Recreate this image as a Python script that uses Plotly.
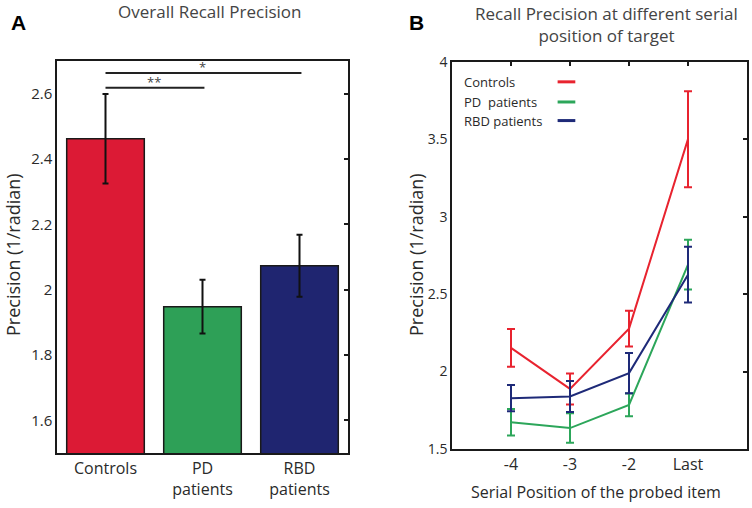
import plotly.graph_objects as go

# ---------------- data ----------------
groups = ["Controls", "PD<br>patients", "RBD<br>patients"]
overall_mean = [2.462, 1.948, 2.073]
overall_err = [0.137, 0.082, 0.095]
bar_colors = ["#DC1A35", "#2EA057", "#1F2570"]

sig_pairs = [(0, 1), (0, 2)]
sig_heights = [2.618, 2.663]
sig_labels = ["**", "*"]

positions = ["-4", "-3", "-2", "Last"]
series_names = ["Controls", "PD  patients", "RBD patients"]
controls_mean = [2.153, 1.888, 2.277, 3.50]
controls_err = [0.122, 0.10, 0.115, 0.31]
pd_mean = [1.673, 1.635, 1.785, 2.69]
pd_err = [0.086, 0.095, 0.073, 0.16]
rbd_mean = [1.828, 1.839, 1.990, 2.625]
rbd_err = [0.085, 0.10, 0.13, 0.18]
line_colors = ["#E8232F", "#2CA65A", "#1E2A78"]

FONT = "Open Sans"
GRAY = "#2a2a2a"
AX = "#1a1a1a"

fig = go.Figure()

# Panel A bars
fig.add_trace(go.Bar(
    x=groups, y=overall_mean, width=0.8,
    marker=dict(color=bar_colors, line=dict(color="#1a1a1a", width=1.5)),
    error_y=dict(type="data", array=overall_err, color="#111111", thickness=2, width=3),
    xaxis="x", yaxis="y", showlegend=False,
))
# dummy traces for overlay tick axes
fig.add_trace(go.Scatter(x=[], y=[], xaxis="x", yaxis="y3", showlegend=False))
fig.add_trace(go.Scatter(x=[], y=[], xaxis="x3", yaxis="y4", showlegend=False))

# Panel B lines
for name, m, e, c in zip(series_names, [controls_mean, pd_mean, rbd_mean],
                         [controls_err, pd_err, rbd_err], line_colors):
    fig.add_trace(go.Scatter(
        x=positions, y=m, mode="lines", name=name,
        line=dict(color=c, width=2),
        error_y=dict(type="data", array=e, color=c, thickness=2, width=4),
        xaxis="x2", yaxis="y2", showlegend=False,
    ))

shapes = []
annotations = []
# significance bars
for (a, b), h, lab in zip(sig_pairs, sig_heights, sig_labels):
    shapes.append(dict(type="line", xref="x", yref="y", x0=a, x1=b + 0.02, y0=h, y1=h,
                       line=dict(color="#222222", width=2)))
    annotations.append(dict(xref="x", yref="y", x=(a + b) / 2, y=h, text=lab,
                            showarrow=False, yanchor="bottom", yshift=-5,
                            font=dict(family=FONT, size=13, color="#444444")))

# legend for panel B (text then short line)
leg_y = [0.948, 0.896, 0.848]
for name, c, yy in zip(series_names, line_colors, leg_y):
    annotations.append(dict(xref="x2 domain", yref="y2 domain", x=0.035, y=yy, text=name,
                            showarrow=False, xanchor="left", yanchor="middle",
                            font=dict(family=FONT, size=13, color=GRAY)))
    shapes.append(dict(type="line", xref="x2 domain", yref="y2 domain", x0=0.358, x1=0.418,
                       y0=yy, y1=yy, line=dict(color=c, width=3)))

# titles, axis titles and panel letters
annotations += [
    dict(xref="paper", yref="paper", x=209 / 752, y=1 - 12 / 508, text="Overall Recall Precision",
         showarrow=False, xanchor="center", yanchor="middle",
         font=dict(family=FONT, size=17, color="#444444")),
    dict(xref="paper", yref="paper", x=606 / 752, y=1 - 24 / 508,
         text="Recall Precision at different serial<br>position of target",
         showarrow=False, xanchor="center", yanchor="middle",
         font=dict(family=FONT, size=17, color="#444444")),
    dict(xref="paper", yref="paper", x=18 / 752, y=1 - 22 / 508, text="<b>A</b>",
         showarrow=False, xanchor="center", yanchor="middle",
         font=dict(family="Liberation Sans", size=21, color="#000000")),
    dict(xref="paper", yref="paper", x=416 / 752, y=1 - 22 / 508, text="<b>B</b>",
         showarrow=False, xanchor="center", yanchor="middle",
         font=dict(family="Liberation Sans", size=21, color="#000000")),
    dict(xref="paper", yref="paper", x=13 / 752, y=1 - 255 / 508, text="Precision (1/radian)",
         textangle=-90, showarrow=False, xanchor="center", yanchor="middle",
         font=dict(family=FONT, size=18, color=GRAY)),
    dict(xref="paper", yref="paper", x=416 / 752, y=1 - 255 / 508, text="Precision (1/radian)",
         textangle=-90, showarrow=False, xanchor="center", yanchor="middle",
         font=dict(family=FONT, size=18, color=GRAY)),
    dict(xref="paper", yref="paper", x=596 / 752, y=1 - 492 / 508,
         text="Serial Position of the probed item",
         showarrow=False, xanchor="center", yanchor="middle",
         font=dict(family=FONT, size=16, color=GRAY)),
]

tickfont_a = dict(family=FONT, size=15, color=GRAY)
tickfont_b = dict(family=FONT, size=14, color=GRAY)

fig.update_layout(
    width=752, height=508,
    margin=dict(l=0, r=0, t=0, b=0),
    paper_bgcolor="white", plot_bgcolor="white",
    shapes=shapes, annotations=annotations,
    showlegend=False,
    xaxis=dict(domain=[57 / 752, 348 / 752], anchor="y", type="category", automargin=False,
               range=[-0.5, 2.5], showline=True, linecolor=AX, linewidth=1.5, mirror=True,
               ticks="", tickfont=dict(family=FONT, size=16, color=GRAY), showgrid=False),
    yaxis=dict(domain=[1 - 453 / 508, 1 - 61 / 508], anchor="x", range=[1.5, 2.7], automargin=False,
               tickvals=[1.6, 1.8, 2.0, 2.2, 2.4, 2.6], ticktext=["1.6", "1.8", "2", "2.2", "2.4", "2.6"],
               showline=True, linecolor=AX, linewidth=1.5, mirror=True, ticks="",
               tickfont=tickfont_a, showgrid=False, zeroline=False),
    yaxis3=dict(overlaying="y", side="right", anchor="x", range=[1.5, 2.7], automargin=False,
                tickvals=[1.6, 1.8, 2.0, 2.2, 2.4, 2.6], ticks="inside", ticklen=4,
                tickcolor=AX, tickwidth=1.5, showticklabels=False, showgrid=False,
                zeroline=False, showline=False),
    xaxis2=dict(domain=[452 / 752, 747 / 752], anchor="y2", type="category", automargin=False,
                range=[-1, 4], showline=True, linecolor=AX, linewidth=1.5, mirror=True,
                ticks="", tickfont=dict(family=FONT, size=16, color=GRAY), showgrid=False),
    yaxis2=dict(domain=[1 - 449 / 508, 1 - 61.7 / 508], anchor="x2", range=[1.5, 4], automargin=False,
                tickvals=[1.5, 2, 2.5, 3, 3.5, 4], ticktext=["1.5", "2", "2.5", "3", "3.5", "4"],
                showline=True, linecolor=AX, linewidth=1.5, mirror=True, ticks="",
                tickfont=tickfont_b, showgrid=False, zeroline=False),
    xaxis3=dict(overlaying="x2", side="top", anchor="y2", type="category", automargin=False,
                categoryarray=positions, range=[-1, 4],
                tickvals=positions, ticks="inside", ticklen=4, tickcolor=AX, tickwidth=1.5,
                showticklabels=False, showgrid=False, showline=False),
    yaxis4=dict(overlaying="y2", side="right", anchor="x3", range=[1.5, 4], automargin=False,
                tickvals=[1.5, 2, 2.5, 3, 3.5, 4], ticks="inside", ticklen=4,
                tickcolor=AX, tickwidth=1.5, showticklabels=False, showgrid=False,
                zeroline=False, showline=False),
)

fig.write_html("out.html", config={"displayModeBar": False},
               post_script="document.body.style.margin='0';")
